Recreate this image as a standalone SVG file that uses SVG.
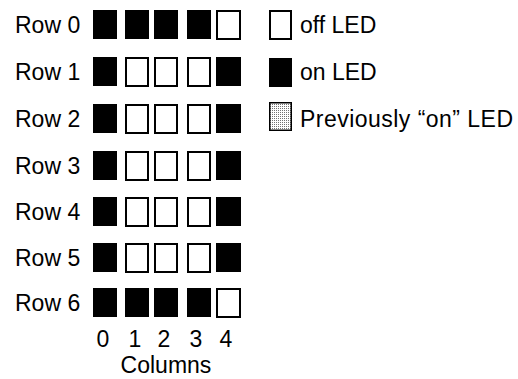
<svg xmlns="http://www.w3.org/2000/svg" width="518" height="379" viewBox="0 0 518 379">
  <defs>
    <pattern id="stipple" width="2" height="2" patternUnits="userSpaceOnUse">
      <rect width="2" height="2" fill="#ffffff"/>
      <rect width="1" height="1" fill="#000000" opacity="0.55"/>
    </pattern>
    <style>
      text { font-family: "Liberation Sans", Arial, sans-serif; font-size: 23px; fill: #000; }
      .on { fill: #000; stroke: #000; stroke-width: 1; }
      .off { fill: #fff; stroke: #000; stroke-width: 2; }
      .prev { fill: url(#stipple); stroke: #000; stroke-width: 1.5; }
      .mid { text-anchor: middle; }
    </style>
  </defs>

  <!-- Row labels -->
  <g id="row-labels">
    <text x="15" y="33">Row 0</text>
    <text x="15" y="80">Row 1</text>
    <text x="15" y="127">Row 2</text>
    <text x="15" y="174">Row 3</text>
    <text x="15" y="220">Row 4</text>
    <text x="15" y="266">Row 5</text>
    <text x="15" y="311">Row 6</text>
  </g>

  <!-- LED matrix: 7 rows x 5 columns -->
  <g id="row0">
    <rect class="on" x="93.5" y="10.5" width="23" height="28"/>
    <rect class="on" x="125.5" y="10.5" width="23" height="28"/>
    <rect class="on" x="154.5" y="10.5" width="23" height="28"/>
    <rect class="on" x="187.5" y="10.5" width="23" height="28"/>
    <rect class="off" x="217" y="11" width="23" height="28"/>
  </g>
  <g id="row1">
    <rect class="on" x="93.5" y="57.5" width="23" height="28"/>
    <rect class="off" x="126" y="58" width="22" height="28"/>
    <rect class="off" x="155" y="58" width="22" height="28"/>
    <rect class="off" x="188" y="58" width="22" height="28"/>
    <rect class="on" x="216.5" y="57.5" width="24" height="28"/>
  </g>
  <g id="row2">
    <rect class="on" x="93.5" y="104.5" width="23" height="28"/>
    <rect class="off" x="126" y="105" width="22" height="28"/>
    <rect class="off" x="155" y="105" width="22" height="28"/>
    <rect class="off" x="188" y="105" width="22" height="28"/>
    <rect class="on" x="216.5" y="104.5" width="24" height="28"/>
  </g>
  <g id="row3">
    <rect class="on" x="93.5" y="151.5" width="23" height="28"/>
    <rect class="off" x="126" y="152" width="22" height="28"/>
    <rect class="off" x="155" y="152" width="22" height="28"/>
    <rect class="off" x="188" y="152" width="22" height="28"/>
    <rect class="on" x="216.5" y="151.5" width="24" height="28"/>
  </g>
  <g id="row4">
    <rect class="on" x="93.5" y="197.5" width="23" height="28"/>
    <rect class="off" x="126" y="198" width="22" height="28"/>
    <rect class="off" x="155" y="198" width="22" height="28"/>
    <rect class="off" x="188" y="198" width="22" height="28"/>
    <rect class="on" x="216.5" y="197.5" width="24" height="28"/>
  </g>
  <g id="row5">
    <rect class="on" x="93.5" y="243.5" width="23" height="28"/>
    <rect class="off" x="126" y="244" width="22" height="28"/>
    <rect class="off" x="155" y="244" width="22" height="28"/>
    <rect class="off" x="188" y="244" width="22" height="28"/>
    <rect class="on" x="216.5" y="243.5" width="24" height="28"/>
  </g>
  <g id="row6">
    <rect class="on" x="93.5" y="288.5" width="23" height="28"/>
    <rect class="on" x="125.5" y="288.5" width="23" height="28"/>
    <rect class="on" x="154.5" y="288.5" width="23" height="28"/>
    <rect class="on" x="187.5" y="288.5" width="23" height="28"/>
    <rect class="off" x="217" y="289" width="23" height="28"/>
  </g>

  <!-- Column numbers and axis title -->
  <g id="column-labels">
    <text class="mid" x="103" y="347">0</text>
    <text class="mid" x="135" y="347">1</text>
    <text class="mid" x="164" y="347">2</text>
    <text class="mid" x="196" y="347">3</text>
    <text class="mid" x="226" y="347">4</text>
    <text class="mid" x="166" y="373">Columns</text>
  </g>

  <!-- Legend -->
  <g id="legend-off">
    <rect class="off" x="270" y="11" width="21" height="28"/>
    <text x="300" y="33">off LED</text>
  </g>
  <g id="legend-on">
    <rect class="on" x="269.5" y="58.5" width="22" height="28"/>
    <text x="300" y="80">on LED</text>
  </g>
  <g id="legend-previous">
    <rect class="prev" x="269.75" y="102.75" width="21.5" height="27.5"/>
    <text x="300" y="127" textLength="213" lengthAdjust="spacing">Previously “on” LED</text>
  </g>
</svg>
